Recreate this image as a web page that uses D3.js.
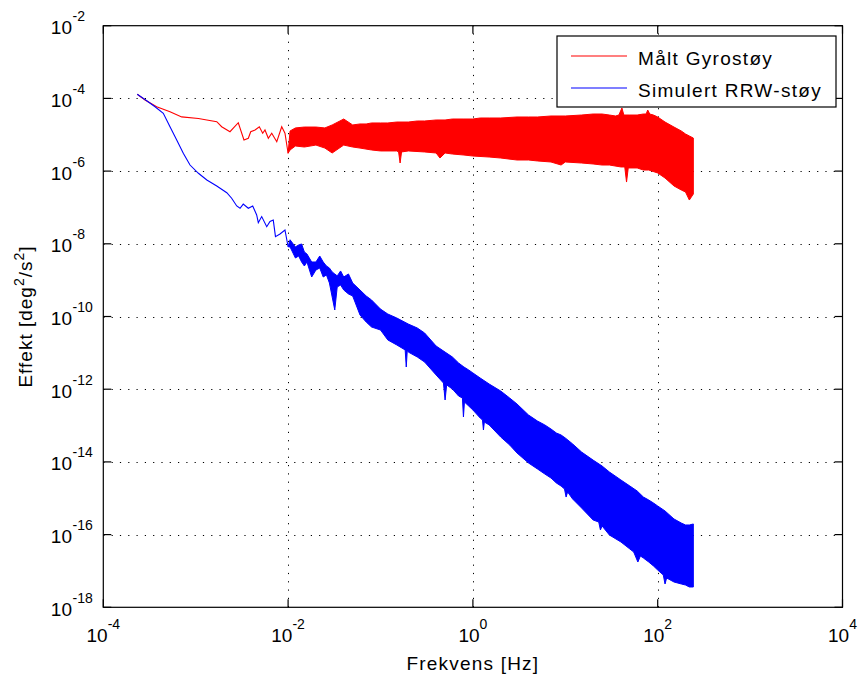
<!DOCTYPE html>
<html>
<head>
<meta charset="utf-8">
<script src="https://cdn.jsdelivr.net/npm/d3@7/dist/d3.min.js"></script>
<style>
  body { margin: 0; background: #fff; }
  svg { display: block; }
  text { font-family: "Liberation Sans", Arial, Helvetica, sans-serif; fill: #000; }
</style>
</head>
<body>
<svg id="chart" width="862" height="680"></svg>
<script>
// Axis decades (powers of ten) that carry ticks, labels and grid lines
const xTickExps = [-4, -2, 0, 2, 4];
const yTickExps = [-2, -4, -6, -8, -10, -12, -14, -16, -18];
const seriesNames = ["Målt Gyrostøy", "Simulert RRW-støy"];
const seriesColors = ["#ff0000", "#0000ff"];

// Measured gyro noise: sparse low-frequency part of the spectrum
const gyroTraceFreq = [2.33e-4, 2.83e-4, 3.78e-4, 5.27e-4, 7.05e-4, 1.07e-3, 1.32e-3, 1.69e-3, 1.91e-3, 2.35e-3, 2.89e-3, 3.33e-3, 3.71e-3, 3.94e-3, 4.39e-3, 4.88e-3, 5.31e-3, 5.62e-3, 6.11e-3, 6.65e-3, 7.54e-3, 8.53e-3, 9.25e-3, 1.0e-2];
const gyroTracePow = [1.30e-4, 9.0e-5, 5.9e-5, 4.3e-5, 3.1e-5, 2.8e-5, 2.55e-5, 2.29e-5, 1.66e-5, 1.21e-5, 2.14e-5, 7.2e-6, 8.0e-6, 1.21e-5, 1.35e-5, 1.66e-5, 1.10e-5, 1.35e-5, 8.0e-6, 1.10e-5, 6.4e-6, 1.66e-5, 1.10e-5, 3.1e-6];
// Measured gyro noise: upper / lower envelope of the dense high-frequency part
const gyroUpperFreq = [0.01, 0.0105, 0.012, 0.015, 0.02, 0.025, 0.03, 0.04, 0.05, 0.06, 0.07, 0.08, 0.1, 0.12, 0.15, 0.2, 0.25, 0.3, 0.4, 0.5, 0.6, 0.8, 1, 1.2, 1.5, 2, 3, 4, 5, 7, 10, 15, 20, 25, 30, 35, 38, 41, 43, 50, 60, 70, 75, 78, 82, 90, 100, 120, 150, 180, 200, 220, 243];
const gyroUpperPow = [3.1e-6, 1.27e-5, 1.54e-5, 1.63e-5, 1.63e-5, 1.54e-5, 1.86e-5, 2.71e-5, 1.86e-5, 1.98e-5, 1.98e-5, 2.11e-5, 2.11e-5, 2.11e-5, 2.24e-5, 2.24e-5, 2.39e-5, 2.39e-5, 2.55e-5, 2.55e-5, 2.71e-5, 2.71e-5, 2.71e-5, 2.89e-5, 2.89e-5, 2.89e-5, 3.08e-5, 3.08e-5, 3.08e-5, 3.28e-5, 3.28e-5, 3.49e-5, 3.72e-5, 3.72e-5, 3.49e-5, 3.28e-5, 3.49e-5, 5.44e-5, 3.49e-5, 3.49e-5, 3.49e-5, 3.72e-5, 3.72e-5, 4.79e-5, 3.72e-5, 3.49e-5, 3.08e-5, 2.24e-5, 1.63e-5, 1.27e-5, 1.05e-5, 9.25e-6, 8.1e-6];
const gyroLowerFreq = [0.01, 0.0105, 0.012, 0.015, 0.02, 0.025, 0.03, 0.04, 0.05, 0.06, 0.08, 0.1, 0.15, 0.157, 0.163, 0.169, 0.2, 0.3, 0.4, 0.44, 0.5, 0.6, 0.8, 1, 1.5, 2, 3, 4, 5, 7, 9, 10, 15, 20, 25, 30, 40, 44, 46, 48, 60, 70, 80, 100, 120, 150, 180, 200, 220, 243];
const gyroLowerPow = [3.1e-6, 3.81e-6, 4.9e-6, 4.6e-6, 5.2e-6, 4.3e-6, 3.15e-6, 5.2e-6, 4.6e-6, 4.3e-6, 3.81e-6, 3.58e-6, 3.58e-6, 3.36e-6, 1.67e-6, 3.36e-6, 3.58e-6, 3.36e-6, 3.15e-6, 2.29e-6, 3.15e-6, 2.95e-6, 2.77e-6, 2.60e-6, 2.44e-6, 2.29e-6, 2.02e-6, 2.02e-6, 1.90e-6, 1.78e-6, 1.47e-6, 1.78e-6, 1.67e-6, 1.57e-6, 1.47e-6, 1.47e-6, 1.30e-6, 1.30e-6, 5.0e-7, 1.22e-6, 1.22e-6, 1.07e-6, 1.07e-6, 8.87e-7, 6.45e-7, 3.9e-7, 3.02e-7, 2.66e-7, 1.60e-7, 2.34e-7];

// Simulated rate random walk: sparse low-frequency part
const rrwTraceFreq = [2.33e-4, 2.95e-4, 3.63e-4, 4.46e-4, 5.27e-4, 6.23e-4, 7.34e-4, 8.68e-4, 1.07e-3, 1.32e-3, 1.69e-3, 2.17e-3, 2.45e-3, 2.78e-3, 3.02e-3, 3.27e-3, 3.71e-3, 4.14e-3, 4.57e-3, 4.76e-3, 5.18e-3, 5.87e-3, 6.37e-3, 6.91e-3, 7.30e-3, 8.17e-3, 9.25e-3, 1.0e-2];
const rrwTracePow = [1.30e-4, 8.6e-5, 5.9e-5, 3.9e-5, 1.66e-5, 7.2e-6, 3.1e-6, 1.47e-6, 8.7e-7, 5.7e-7, 3.9e-7, 2.55e-7, 1.79e-7, 1.10e-7, 9.5e-8, 1.24e-7, 9.5e-8, 1.10e-7, 6.2e-8, 3.8e-8, 5.6e-8, 2.95e-8, 4.1e-8, 4.5e-8, 1.57e-8, 1.86e-8, 2.4e-8, 8.3e-9];
// Simulated rate random walk: upper / lower envelope of the dense part
const rrwUpperFreq = [0.01, 0.0105, 0.012, 0.013, 0.014, 0.015, 0.016, 0.018, 0.02, 0.022, 0.024, 0.026, 0.028, 0.03, 0.032, 0.034, 0.037, 0.04, 0.045, 0.05, 0.06, 0.07, 0.08, 0.1, 0.12, 0.15, 0.2, 0.25, 0.3, 0.4, 0.5, 0.6, 0.7, 0.8, 0.9, 1, 1.2, 1.5, 2, 2.5, 3, 4, 5, 6, 7, 8, 9, 10, 12, 15, 20, 25, 30, 40, 50, 60, 70, 80, 90, 100, 120, 150, 180, 200, 220, 243];
const rrwUpperPow = [8.3e-9, 1.29e-8, 8.2e-9, 9.27e-9, 9.9e-9, 5.95e-9, 5.24e-9, 3.16e-9, 3.16e-9, 4.62e-9, 3.16e-9, 2.45e-9, 2.16e-9, 1.68e-9, 1.48e-9, 1.31e-9, 1.79e-9, 1.22e-9, 1.48e-9, 8.35e-10, 5.36e-10, 3.67e-10, 2.85e-10, 1.60e-10, 1.17e-10, 9.1e-11, 6.2e-11, 4.83e-11, 3.52e-11, 1.54e-11, 1.05e-11, 7.69e-12, 5.26e-12, 4.08e-12, 3.38e-12, 2.80e-12, 2.03e-12, 1.39e-12, 8.92e-13, 5.72e-13, 3.92e-13, 1.95e-13, 1.33e-13, 1.04e-13, 8.03e-14, 6.24e-14, 5.5e-14, 4.55e-14, 3.12e-14, 1.87e-14, 1.12e-14, 7.72e-15, 5.28e-15, 3.18e-15, 2.17e-15, 1.58e-15, 1.08e-15, 8.95e-16, 7.4e-16, 6.13e-16, 4.47e-16, 2.69e-16, 2.08e-16, 1.84e-16, 1.84e-16, 1.96e-16];
const rrwLowerFreq = [0.01, 0.0105, 0.012, 0.013, 0.014, 0.015, 0.016, 0.018, 0.02, 0.022, 0.024, 0.026, 0.028, 0.03, 0.032, 0.034, 0.037, 0.04, 0.045, 0.05, 0.06, 0.07, 0.08, 0.1, 0.12, 0.15, 0.185, 0.19, 0.195, 0.2, 0.25, 0.3, 0.4, 0.48, 0.5, 0.52, 0.6, 0.7, 0.77, 0.79, 0.81, 0.9, 1, 1.2, 1.27, 1.3, 1.33, 1.5, 2, 2.5, 3, 4, 5, 6, 7, 8, 9, 9.8, 10.2, 10.6, 12, 15, 20, 23, 24, 25, 30, 40, 50, 55, 61, 65, 70, 80, 90, 100, 115, 120, 125, 150, 180, 200, 220, 243];
const rrwLowerPow = [8.3e-9, 8.2e-9, 4.07e-9, 4.62e-9, 3.16e-9, 2.45e-9, 3.16e-9, 1.22e-9, 1.90e-9, 2.16e-9, 1.22e-9, 1.39e-9, 8.35e-10, 3.44e-10, 1.51e-10, 6.48e-10, 7.35e-10, 5.36e-10, 4.17e-10, 3.67e-10, 1.10e-10, 7.05e-11, 5.14e-11, 4.25e-11, 2.26e-11, 1.65e-11, 1.20e-11, 4.08e-12, 1.20e-11, 1.05e-11, 7.69e-12, 5.6e-12, 2.46e-12, 1.48e-12, 5.05e-13, 1.31e-12, 1.01e-12, 6.5e-13, 5.72e-13, 1.72e-13, 4.45e-13, 3.45e-13, 2.68e-13, 1.61e-13, 1.42e-13, 7.54e-14, 1.25e-13, 1.04e-13, 4.84e-14, 2.92e-14, 1.76e-14, 9.33e-15, 6.38e-15, 4.65e-15, 3.6e-15, 2.63e-15, 2.17e-15, 1.80e-15, 1.08e-15, 1.49e-15, 9.54e-16, 5.4e-16, 2.52e-16, 2.22e-16, 1.34e-16, 1.73e-16, 9.75e-17, 6.26e-17, 4.01e-17, 3.32e-17, 1.76e-17, 2.58e-17, 2.27e-17, 1.76e-17, 1.37e-17, 1.06e-17, 7.73e-18, 4.38e-18, 6.4e-18, 4.97e-18, 4.38e-18, 4.1e-18, 3.62e-18, 3.62e-18];

// ---- layout ----
const plot = { left: 103.3, right: 842.5, top: 25.7, bottom: 607.3 };
const tickLen = 8;
const svg = d3.select("#chart");

const x = d3.scaleLog().domain([1e-4, 1e4]).range([plot.left, plot.right]);
const y = d3.scaleLog().domain([1e-18, 1e-2]).range([plot.bottom, plot.top]);

const zip = (a, b) => a.map((v, i) => [v, b[i]]);
const line = d3.line().x(d => x(d[0])).y(d => y(d[1]));

// white axes background
svg.append("rect")
  .attr("x", plot.left).attr("y", plot.top)
  .attr("width", plot.right - plot.left).attr("height", plot.bottom - plot.top)
  .attr("fill", "#fff");

// dotted grid
const grid = svg.append("g").attr("stroke", "#000").attr("stroke-width", 1)
  .attr("stroke-dasharray", "1.2,7.1");
grid.selectAll("line.gx")
  .data(xTickExps.filter(e => e > -4 && e < 4))
  .join("line")
  .attr("x1", e => Math.round(x(10 ** e)) + 0.5).attr("x2", e => Math.round(x(10 ** e)) + 0.5)
  .attr("y1", plot.bottom).attr("y2", plot.top);
grid.selectAll("line.gy")
  .data(yTickExps.filter(e => e > -18 && e < -2))
  .join("line")
  .attr("y1", e => Math.round(y(10 ** e)) + 0.5).attr("y2", e => Math.round(y(10 ** e)) + 0.5)
  .attr("x1", plot.left).attr("x2", plot.right);

// series
function drawSeries(traceF, traceP, upF, upP, loF, loP, color) {
  const band = zip(upF, upP).concat(zip(loF, loP).reverse());
  svg.append("path")
    .attr("d", line(band) + "Z")
    .attr("fill", color).attr("stroke", color).attr("stroke-width", 1)
    .attr("stroke-linejoin", "round");
  svg.append("path")
    .attr("d", line(zip(traceF, traceP)))
    .attr("fill", "none").attr("stroke", color).attr("stroke-width", 1.1);
}
drawSeries(gyroTraceFreq, gyroTracePow, gyroUpperFreq, gyroUpperPow, gyroLowerFreq, gyroLowerPow, seriesColors[0]);
drawSeries(rrwTraceFreq, rrwTracePow, rrwUpperFreq, rrwUpperPow, rrwLowerFreq, rrwLowerPow, seriesColors[1]);

// axes box and inward ticks on all four sides
const axes = svg.append("g").attr("stroke", "#000").attr("stroke-width", 1.2).attr("fill", "none");
axes.append("rect")
  .attr("x", plot.left).attr("y", plot.top)
  .attr("width", plot.right - plot.left).attr("height", plot.bottom - plot.top);
xTickExps.forEach(e => {
  const px = x(10 ** e);
  axes.append("line").attr("x1", px).attr("x2", px).attr("y1", plot.bottom).attr("y2", plot.bottom - tickLen);
  axes.append("line").attr("x1", px).attr("x2", px).attr("y1", plot.top).attr("y2", plot.top + tickLen);
});
yTickExps.forEach(e => {
  const py = y(10 ** e);
  axes.append("line").attr("y1", py).attr("y2", py).attr("x1", plot.left).attr("x2", plot.left + tickLen);
  axes.append("line").attr("y1", py).attr("y2", py).attr("x1", plot.right).attr("x2", plot.right - tickLen);
});

// tick labels: 10 with a superscript exponent
const baseSize = 19, supSize = 14;
xTickExps.forEach(e => {
  const t = svg.append("text")
    .attr("x", x(10 ** e)).attr("y", 641.5)
    .attr("text-anchor", "middle")
    .attr("font-size", baseSize);
  t.append("tspan").text("10");
  t.append("tspan").attr("font-size", supSize).attr("dy", -13).text(String(e));
});
yTickExps.forEach(e => {
  const py = y(10 ** e);
  svg.append("text")
    .attr("x", 72).attr("y", py + 8.5)
    .attr("text-anchor", "end")
    .attr("font-size", baseSize)
    .text("10");
  svg.append("text")
    .attr("x", 72.5).attr("y", py - 4.5)
    .attr("font-size", supSize)
    .text(String(e));
});

// axis titles
svg.append("text")
  .attr("x", (plot.left + plot.right) / 2).attr("y", 670)
  .attr("text-anchor", "middle")
  .attr("font-size", baseSize).attr("letter-spacing", 1.2)
  .text("Frekvens [Hz]");

const yTitle = svg.append("text")
  .attr("transform", `translate(32,${(plot.top + plot.bottom) / 2}) rotate(-90)`)
  .attr("text-anchor", "middle")
  .attr("font-size", baseSize).attr("letter-spacing", 1.0);
yTitle.append("tspan").text("Effekt [deg");
yTitle.append("tspan").attr("font-size", supSize).attr("dy", -8).text("2");
yTitle.append("tspan").attr("dy", 8).text("/s");
yTitle.append("tspan").attr("font-size", supSize).attr("dy", -8).text("2");
yTitle.append("tspan").attr("dy", 8).text("]");

// legend
const legend = svg.append("g");
legend.append("rect")
  .attr("x", 557).attr("y", 36).attr("width", 279).attr("height", 71)
  .attr("fill", "#fff").attr("stroke", "#000").attr("stroke-width", 1.2);
seriesNames.forEach((name, i) => {
  const ly = 56 + i * 32;
  legend.append("line")
    .attr("x1", 571).attr("x2", 627).attr("y1", ly).attr("y2", ly)
    .attr("stroke", seriesColors[i]).attr("stroke-width", 1.2);
  legend.append("text")
    .attr("x", 638).attr("y", ly + 8.5)
    .attr("font-size", baseSize).attr("letter-spacing", 1.3)
    .text(name);
});
</script>
</body>
</html>
